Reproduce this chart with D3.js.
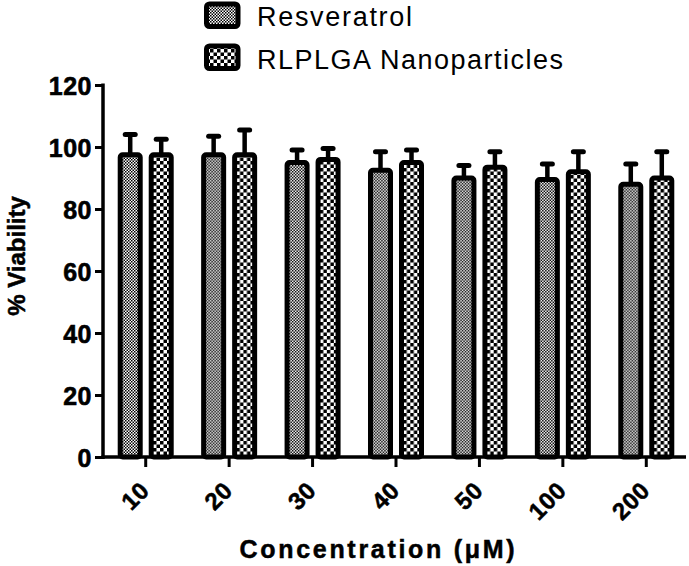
<!DOCTYPE html>
<html>
<head>
<meta charset="utf-8">
<script src="https://cdn.jsdelivr.net/npm/d3@7"></script>
<style>
  html, body { margin: 0; padding: 0; background: #fff; }
  svg { display: block; font-family: Arial, "Liberation Sans", Helvetica, sans-serif; }
</style>
</head>
<body>
<svg id="chart" width="689" height="566"></svg>
<script>
const categories = ["10", "20", "30", "40", "50", "100", "200"];
const seriesNames = ["Resveratrol", "RLPLGA Nanoparticles"];
const resveratrolMean = [97.5, 97.5, 95, 92.5, 90, 89.5, 88];
const resveratrolErr  = [6.5, 6, 4, 6, 4, 5, 6.5];
const nanoMean        = [97.5, 97.5, 96, 95, 93.5, 92, 90];
const nanoErr         = [5, 8, 3.5, 4, 5, 6.5, 8.5];
const yTicks = [0, 20, 40, 60, 80, 100, 120];

const svg = d3.select("#chart");
const FONT = "Arial, 'Liberation Sans', sans-serif";

// patterns
const defs = svg.append("defs");
const pFine = defs.append("pattern").attr("id", "pFine")
  .attr("patternUnits", "userSpaceOnUse").attr("width", 3).attr("height", 3);
pFine.append("rect").attr("width", 3).attr("height", 3).attr("fill", "#fff");
pFine.append("rect").attr("width", 1.5).attr("height", 1.5).attr("fill", "#000");
pFine.append("rect").attr("x", 1.5).attr("y", 1.5).attr("width", 1.5).attr("height", 1.5).attr("fill", "#000");

const pCoarse = defs.append("pattern").attr("id", "pCoarse")
  .attr("patternUnits", "userSpaceOnUse").attr("width", 7).attr("height", 7);
pCoarse.append("rect").attr("width", 7).attr("height", 7).attr("fill", "#fff");
pCoarse.append("rect").attr("width", 3.5).attr("height", 3.5).attr("fill", "#000");
pCoarse.append("rect").attr("x", 3.5).attr("y", 3.5).attr("width", 3.5).attr("height", 3.5).attr("fill", "#000");

const fills = ["url(#pFine)", "url(#pCoarse)"];

const x0 = d3.scaleBand().domain(categories).range([104, 688]).padding(0);
const x1 = d3.scaleBand().domain(seriesNames)
  .range([x0.bandwidth() / 2 - 28, x0.bandwidth() / 2 + 28])
  .paddingInner(6 / 31).paddingOuter(0);
const y = d3.scaleLinear().domain([0, 120]).range([457, 85]);

const data = categories.map((c, i) => ({
  cat: c,
  vals: [
    { s: seriesNames[0], m: resveratrolMean[i], e: resveratrolErr[i], k: 0 },
    { s: seriesNames[1], m: nanoMean[i], e: nanoErr[i], k: 1 }
  ]
}));

const groups = svg.append("g").selectAll("g").data(data).join("g")
  .attr("transform", d => `translate(${x0(d.cat)},0)`);

// error bars (drawn first, behind bars)
groups.selectAll("g.err").data(d => d.vals).join("g").attr("class", "err")
  .each(function(d) {
    const g = d3.select(this);
    const cx = x1(d.s) + x1.bandwidth() / 2;
    g.append("line").attr("x1", cx).attr("x2", cx)
      .attr("y1", y(d.m)).attr("y2", y(d.m + d.e))
      .attr("stroke", "#000").attr("stroke-width", 4.5);
    g.append("line").attr("x1", cx - 5).attr("x2", cx + 5)
      .attr("y1", y(d.m + d.e)).attr("y2", y(d.m + d.e))
      .attr("stroke", "#000").attr("stroke-width", 5).attr("stroke-linecap", "round");
  });

groups.selectAll("rect.bar").data(d => d.vals).join("rect").attr("class", "bar")
  .attr("x", d => x1(d.s) + 2.5)
  .attr("width", x1.bandwidth() - 5)
  .attr("y", d => y(d.m))
  .attr("height", d => y(0) - y(d.m))
  .attr("rx", 2.5)
  .attr("fill", d => fills[d.k])
  .attr("stroke", "#000").attr("stroke-width", 5);

// Y axis
const yAxis = svg.append("g").attr("transform", "translate(103,0)")
  .call(d3.axisLeft(y).tickValues(yTicks).tickSize(8).tickSizeOuter(0).tickPadding(3));
yAxis.select(".domain").attr("d", "M0,83.5V459").attr("stroke-width", 3.5);
yAxis.selectAll(".tick line").attr("stroke-width", 3);
yAxis.selectAll(".tick text").attr("font-size", 25).attr("font-weight", "bold")
  .attr("fill", "#000").attr("stroke", "#000").attr("stroke-width", 0.6)
  .attr("font-family", FONT)
  .attr("letter-spacing", 0.5).attr("dy", "0.36em");

// X axis
const xAxis = svg.append("g").attr("transform", "translate(0,457)")
  .call(d3.axisBottom(x0).tickSize(10).tickSizeOuter(0));
xAxis.select(".domain").attr("d", "M101.5,0H686").attr("stroke-width", 3.5);
xAxis.selectAll(".tick line").attr("stroke-width", 3);
xAxis.selectAll(".tick text")
  .attr("font-size", 24).attr("font-weight", "bold").attr("fill", "#000")
  .attr("stroke", "#000").attr("stroke-width", 0.5)
  .attr("font-family", FONT)
  .attr("letter-spacing", 0.5)
  .attr("text-anchor", "end")
  .attr("x", 0).attr("y", 0).attr("dy", 0)
  .attr("transform", "translate(5,35) rotate(-45)");

// axis titles
svg.append("text").attr("x", 377).attr("y", 558).attr("text-anchor", "middle")
  .attr("font-size", 25).attr("font-weight", "bold")
  .attr("stroke", "#000").attr("stroke-width", 0.5)
  .attr("textLength", 275).attr("lengthAdjust", "spacing")
  .text("Concentration (\u03BCM)");

svg.append("text").attr("transform", "translate(25,256) rotate(-90)")
  .attr("text-anchor", "middle").attr("font-size", 24).attr("font-weight", "bold")
  .attr("stroke", "#000").attr("stroke-width", 0.5)
  .text("% Viability");

// legend
const legend = svg.append("g");
const legendY = [4, 46];
const legendTextY = [26, 69];
const legendLen = [155, 306];
seriesNames.forEach((s, i) => {
  legend.append("rect").attr("x", 206.5).attr("y", legendY[i])
    .attr("width", 31.5).attr("height", 22.5).attr("rx", 3)
    .attr("fill", fills[i]).attr("stroke", "#000").attr("stroke-width", 5);
  legend.append("text").attr("x", 257).attr("y", legendTextY[i])
    .attr("font-size", 27).attr("fill", "#000")
    .attr("textLength", legendLen[i]).attr("lengthAdjust", "spacing")
    .text(s);
});
</script>
</body>
</html>
